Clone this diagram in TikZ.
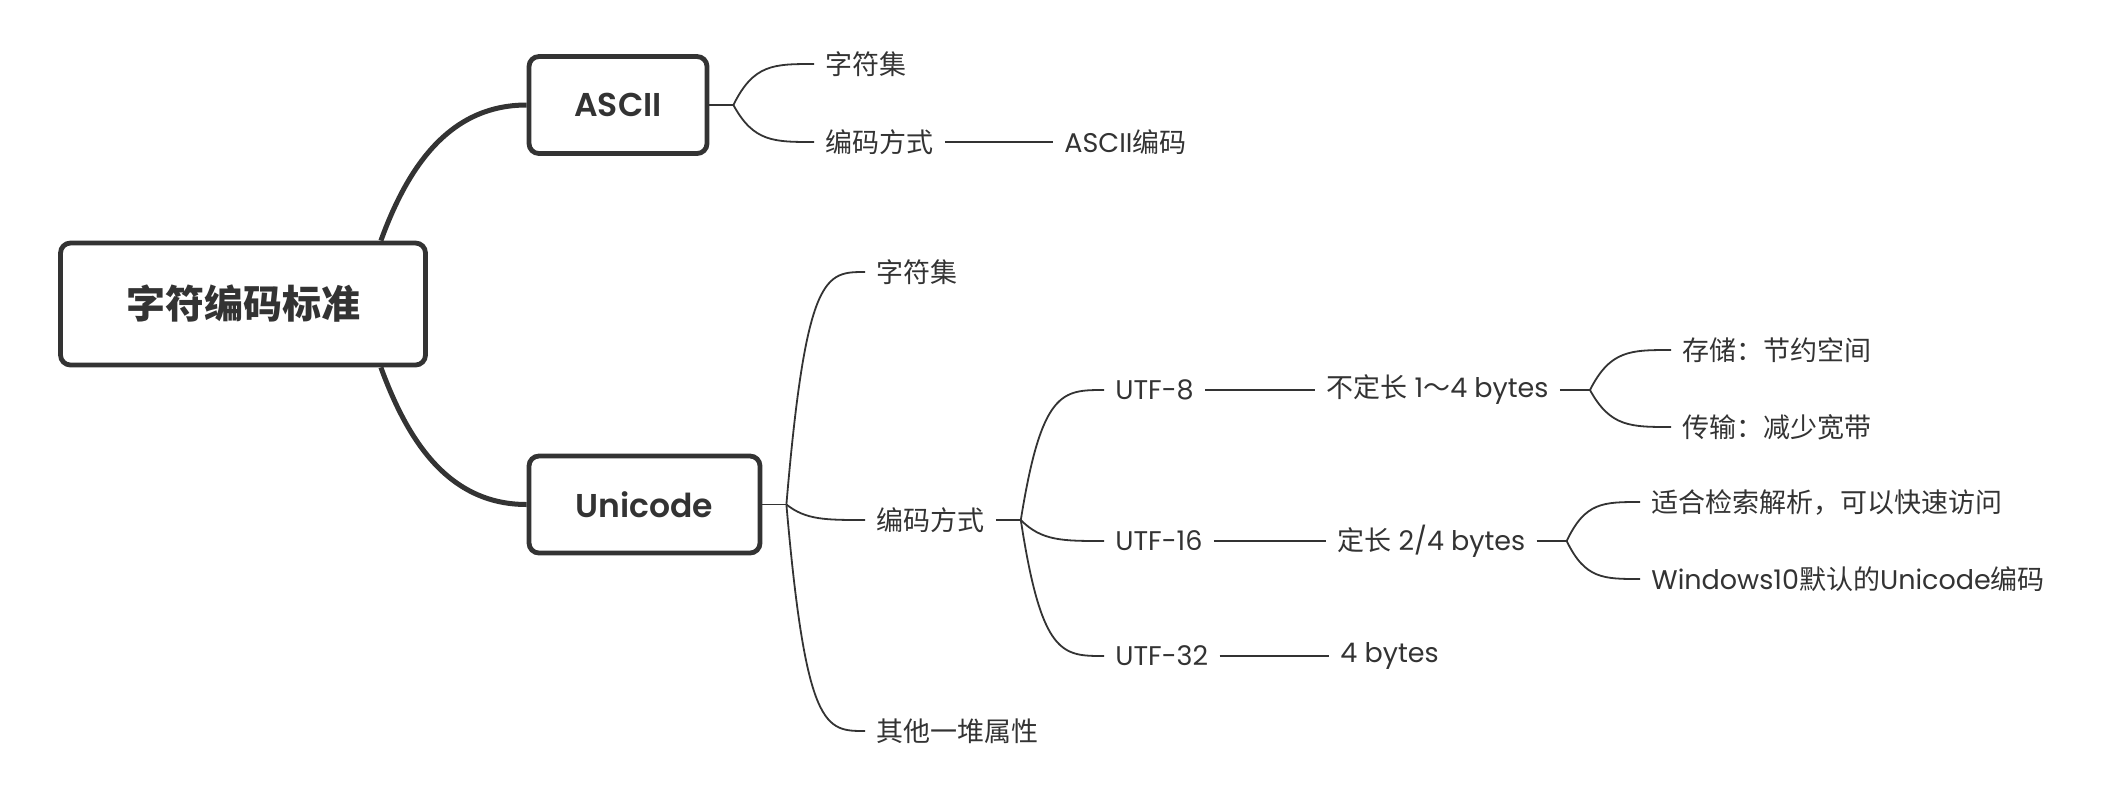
\documentclass[tikz,border=0pt]{standalone}
\usepackage{fontspec}
\setmainfont{Poppins}
\newfontfamily\cjk{Noto Sans CJK SC}
\newfontfamily\boxfont{Poppins SemiBold}
\usetikzlibrary{calc}
\definecolor{inkgray}{RGB}{51,51,51}

\begin{document}
\begin{tikzpicture}[x=0.5pt, y=-0.5pt, color=inkgray,
    rootbox/.style={rectangle, draw, line width=2.4pt, rounded corners=5pt, minimum width=182.5pt, minimum height=61pt, font=\cjk\bfseries\fontsize{19.5}{20}\selectfont},
    mainbox/.style={rectangle, draw, line width=2.4pt, rounded corners=5pt, minimum height=48.5pt, font=\boxfont\fontsize{16.5}{18}\selectfont},
    leaf/.style={anchor=west, inner xsep=5.5pt, inner ysep=2pt, font=\fontsize{13.5}{14}\selectfont},
    thickline/.style={line width=2.5pt},
    thinline/.style={line width=0.9pt},
    branch/.style={to path={let \p1=(\tikztostart), \p2=(\tikztotarget) in
        .. controls (0.75*\x1+0.25*\x2, \y2) and (0.5*\x1+0.5*\x2, \y2) .. (\p2)}}
]
    \useasboundingbox (0,0) rectangle (2120,794);

    \node[rootbox] (root) at (243,304) {字符编码标准};
    \node[mainbox, minimum width=89pt] (ascii) at (618,105) {ASCII};
    \node[mainbox, minimum width=115.5pt] (uni) at (644.5,504.5) {Unicode};

    \node[leaf] (aset) at (814,64) {\cjk 字符集};
    \node[leaf] (aenc) at (814,142) {\cjk 编码方式};
    \node[leaf] (acode) at (1053,142) {ASCII{\cjk 编码}};

    \node[leaf] (uset) at (865,272) {\cjk 字符集};
    \node[leaf] (uenc) at (865,520) {\cjk 编码方式};
    \node[leaf] (uother) at (865,731) {\cjk 其他一堆属性};

    \node[leaf] (utf8) at (1104,390) {UTF-8};
    \node[leaf] (utf16) at (1104,541) {UTF-16};
    \node[leaf] (utf32) at (1104,656) {UTF-32};
    \node[leaf] (varlen) at (1315,390) {{\cjk 不定长} 1{\cjk ～}4 bytes};
    \node[leaf] (fixlen) at (1326,541) {{\cjk 定长} 2/4 bytes};
    \node[leaf] (four) at (1329,656) {4 bytes};

    \node[leaf] (store) at (1671,350) {\cjk 存储：节约空间};
    \node[leaf] (trans) at (1671,427) {\cjk 传输：减少宽带};
    \node[leaf] (search) at (1640,502) {\cjk 适合检索解析，可以快速访问};
    \node[leaf] (win) at (1640,579) {Windows10{\cjk 默认的}Unicode{\cjk 编码}};

    % root to the two standards
    \draw[thickline] ($(root.north east)+(-47,0)$) to[out=70,in=180] (ascii.west);
    \draw[thickline] ($(root.south east)+(-47,0)$) to[out=-70,in=180] (uni.west);

    % ASCII branch
    \draw[thinline] (ascii.east) -- ++(24,0) coordinate (fa);
    \draw[thinline] (fa) to[branch] (aset.west);
    \draw[thinline] (fa) to[branch] (aenc.west);
    \draw[thinline] (aenc.east) -- (aenc.east -| acode.west);

    % Unicode branch
    \draw[thinline] (uni.east) -- ++(24,0) coordinate (fu);
    \draw[thinline] (fu) to[branch] (uset.west);
    \draw[thinline] (fu) to[branch] (uenc.west);
    \draw[thinline] (fu) to[branch] (uother.west);

    \draw[thinline] (uenc.east) -- ++(25,0) coordinate (fe);
    \draw[thinline] (fe) to[branch] (utf8.west);
    \draw[thinline] (fe) to[branch] (utf16.west);
    \draw[thinline] (fe) to[branch] (utf32.west);

    \draw[thinline] (utf8.east) -- (utf8.east -| varlen.west);
    \draw[thinline] (utf16.east) -- (utf16.east -| fixlen.west);
    \draw[thinline] (utf32.east) -- (utf32.east -| four.west);

    \draw[thinline] (varlen.east) -- ++(30,0) coordinate (fv);
    \draw[thinline] (fv) to[branch] (store.west);
    \draw[thinline] (fv) to[branch] (trans.west);

    \draw[thinline] (fixlen.east) -- ++(30,0) coordinate (ff);
    \draw[thinline] (ff) to[branch] (search.west);
    \draw[thinline] (ff) to[branch] (win.west);
\end{tikzpicture}
\end{document}
